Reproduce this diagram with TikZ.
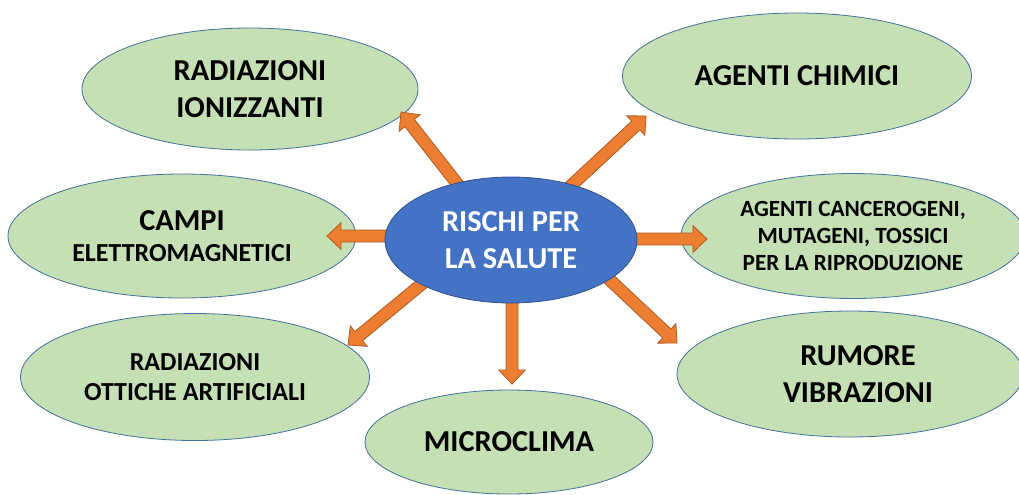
\documentclass[tikz,border=0pt]{standalone}
\usepackage{fontspec}
\setmainfont{Carlito}
\usetikzlibrary{shapes.geometric,calc}
\definecolor{greenfill}{HTML}{C5E0B4}
\definecolor{ellborder}{HTML}{41719C}
\definecolor{bluefill}{HTML}{4472C4}
\definecolor{blueborder}{HTML}{2F528F}
\definecolor{orangefill}{HTML}{ED7D31}
\definecolor{orangeborder}{HTML}{AE5A21}
\newcommand\bigtxt{\fontsize{22.8}{27.5}\selectfont\bfseries}
\newcommand\midtxt{\fontsize{19.5}{22.5}\selectfont\bfseries}
\newcommand\smalltxt{\fontsize{17.4}{20.2}\selectfont\bfseries}
\tikzset{
  riskell/.style 2 args={ellipse, draw=ellborder, fill=greenfill, line width=0.6pt,
    minimum width={#1*0.75pt}, minimum height={#2*0.75pt}, inner sep=0pt, align=center, text=black},
  mainell/.style={ellipse, draw=blueborder, fill=bluefill, line width=0.6pt,
    minimum width={252*0.75pt}, minimum height={126*0.75pt}, inner sep=0pt, align=center, text=white},
  barrow/.style={draw=orangeborder, fill=orangefill, line width=0.6pt, line join=miter},
  bigfont/.style={font=\bigtxt},
  midfont/.style={font=\midtxt},
  smallfont/.style={font=\smalltxt}
}
\newcommand\blockarrow[2]{%
  \coordinate (bh) at ($(#2)!10.5pt!(#1)$);
  \draw[barrow] ($(#1)!4.5pt!90:(#2)$) -- ($(bh)!4.5pt!90:(#2)$) -- ($(bh)!10pt!90:(#2)$) -- (#2)
    -- ($(bh)!10pt!-90:(#2)$) -- ($(bh)!4.5pt!-90:(#2)$) -- ($(#1)!4.5pt!-90:(#2)$) -- cycle;}
\begin{document}
\begin{tikzpicture}[x=0.75pt,y=-0.75pt]
\useasboundingbox (0,0) rectangle (1019,494);
\clip (0,0) rectangle (1019,494);
% outer ellipses
\node[riskell={336}{122}, bigfont] (ion) at (250,89) {RADIAZIONI\\IONIZZANTI};
\node[riskell={348}{124}, midfont] (emf) at (182,236) {{\bigtxt CAMPI}\\[0.5pt]ELETTROMAGNETICI};
\node[riskell={349}{126}, bigfont] (chim) at (797,76) {AGENTI CHIMICI};
\node[riskell={344}{125}, smallfont] (canc) at (853,236) {AGENTI CANCEROGENI,\\MUTAGENI, TOSSICI\\PER LA RIPRODUZIONE};
\node[riskell={346}{126}, bigfont] (rum) at (850,374) {\hspace*{12pt}RUMORE\\\hspace*{12pt}VIBRAZIONI};
\node[riskell={288}{104}, bigfont] (micro) at (509,442) {MICROCLIMA};
\node[riskell={349}{127}, midfont] (ott) at (195,377) {RADIAZIONI\\OTTICHE ARTIFICIALI};
% arrow ends
\coordinate (t1) at (470,200); \coordinate (p1) at (401,112);
\coordinate (t2) at (560,196); \coordinate (p2) at (646,116);
\coordinate (t3) at (620,239); \coordinate (p3) at (707,239);
\coordinate (t4) at (595,266); \coordinate (p4) at (677,343);
\coordinate (t5) at (512,290); \coordinate (p5) at (512,384);
\coordinate (t6) at (435,273); \coordinate (p6) at (348,345);
\coordinate (t7) at (400,236); \coordinate (p7) at (327,236);
\blockarrow{t1}{p1}
\blockarrow{t2}{p2}
\blockarrow{t3}{p3}
\blockarrow{t4}{p4}
\blockarrow{t5}{p5}
\blockarrow{t6}{p6}
\blockarrow{t7}{p7}
% central ellipse
\node[mainell, bigfont] (main) at (511,240) {RISCHI PER\\LA SALUTE};
\end{tikzpicture}
\end{document}
